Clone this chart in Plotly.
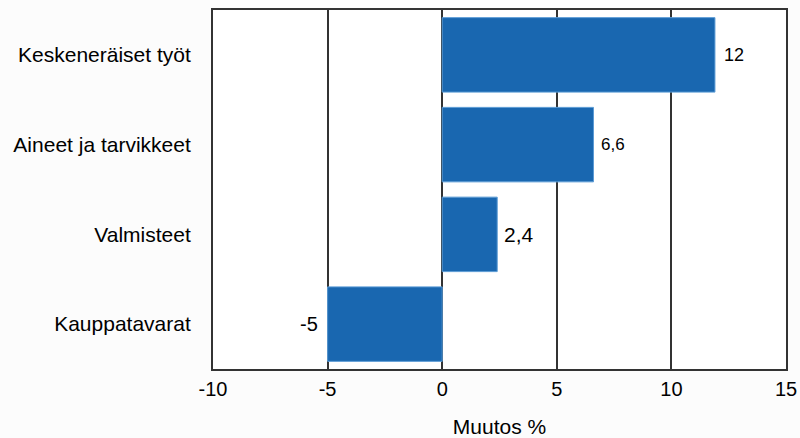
import plotly.graph_objects as go

categories = ["Kauppatavarat", "Valmisteet", "Aineet ja tarvikkeet", "Keskeneräiset työt"]
values = [-5.0, 2.4, 6.6, 11.9]
value_labels = ["-5", "2,4", "6,6", "12"]
x_ticks = [-10, -5, 0, 5, 10, 15]

bar_color = "#1967b0"
line_color = "#333333"
FONT = "Liberation Sans, Arial, sans-serif"

fig = go.Figure()
fig.add_trace(go.Bar(
    y=categories, x=values, orientation="h",
    marker=dict(color=bar_color, line=dict(color="#5b9bd5", width=1)),
    hoverinfo="skip", showlegend=False,
))

label_sizes = [20, 21, 17, 18]
label_shift = [-8, 5, 6, 7]
for c, v, t, s, sh in zip(categories, values, value_labels, label_sizes, label_shift):
    fig.add_annotation(
        x=v, y=c, text=t, showarrow=False,
        xanchor="right" if v < 0 else "left", xshift=sh,
        font=dict(size=s, color="#000000", family=FONT),
    )

fig.update_layout(
    width=800, height=438,
    margin=dict(l=213, r=14, t=10, b=69),
    paper_bgcolor="#fcfcfc", plot_bgcolor="#ffffff",
    bargap=0.17,
    font=dict(family=FONT, size=20, color="#000000"),
)
fig.update_xaxes(
    range=[-10, 15], tickvals=x_ticks, ticktext=[str(v) for v in x_ticks],
    showgrid=True, gridcolor=line_color, gridwidth=1.5,
    zeroline=True, zerolinecolor=line_color, zerolinewidth=1.5,
    showline=True, linecolor=line_color, linewidth=2, mirror=True,
    ticks="", ticklabelstandoff=1, tickfont=dict(size=20),
    title=dict(text="Muutos %", font=dict(size=21), standoff=21),
    automargin=False, fixedrange=True,
)
fig.update_yaxes(
    showgrid=False, showline=True, linecolor=line_color, linewidth=2, mirror=True,
    ticks="", ticklabelstandoff=16, tickfont=dict(size=21),
    automargin=False, fixedrange=True,
)

fig.write_html(
    "out.html",
    config={"displayModeBar": False},
    post_script="document.body.style.margin='0';document.body.style.background='#fcfcfc';",
)
